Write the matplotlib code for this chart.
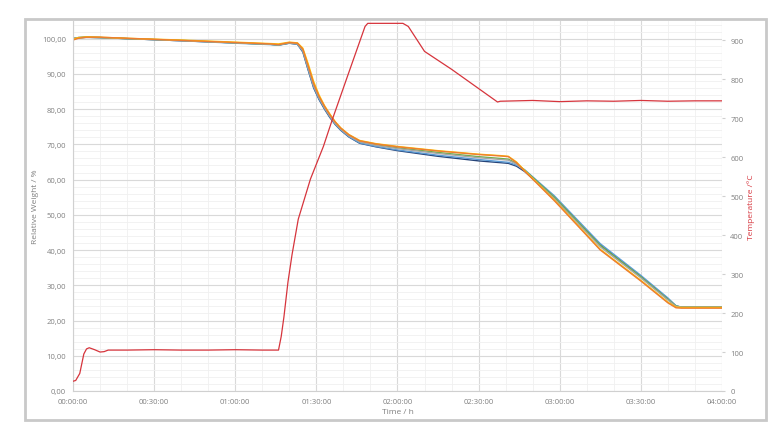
import numpy as np
import matplotlib
matplotlib.use('Agg')
import matplotlib.pyplot as plt
from matplotlib.patches import Rectangle
from matplotlib.ticker import MultipleLocator, FuncFormatter

plt.rcParams['font.family'] = ['Open Sans', 'DejaVu Sans']

# time in minutes for the weight curves
t_w = [0, 2, 5, 10, 20, 40, 60, 73, 76, 80, 83, 85, 87, 89, 91, 93, 95, 97, 99, 102,
       106, 112, 120, 135, 150, 158, 161, 164, 167, 178, 195, 210, 220, 223, 225, 240]

# relative weight / % for each sample
w_dkblue = [100.0, 100.3, 100.4, 100.3, 100.0, 99.4, 98.8, 98.4, 98.2, 98.7, 98.4, 96.2, 91.0, 86.0, 82.7, 80.0, 77.6, 75.6,
            74.0, 72.1, 70.3, 69.3, 68.2, 66.6, 65.3, 64.8, 64.6, 63.8, 62.3, 54.9, 41.4, 32.5, 26.1, 24.1, 23.8, 23.8]
w_blue = [100.1, 100.3, 100.4, 100.3, 100.0, 99.4, 98.7, 98.3, 98.1, 98.7, 98.4, 96.4, 91.2, 86.2, 82.9, 80.2, 77.8, 75.7,
          74.1, 72.2, 70.4, 69.4, 68.4, 66.9, 65.7, 65.1, 64.9, 64.1, 62.8, 55.4, 41.8, 32.8, 26.4, 24.2, 23.8, 23.8]
w_green = [99.8, 100.2, 100.4, 100.3, 100.0, 99.5, 98.8, 98.4, 98.2, 98.8, 98.6, 96.8, 91.9, 86.9, 83.4, 80.6, 78.2, 76.1,
           74.5, 72.6, 70.8, 69.9, 69.0, 67.7, 66.5, 66.0, 65.8, 64.6, 62.7, 55.0, 41.3, 32.4, 26.0, 24.1, 23.8, 23.8]
w_gray = [100.0, 100.2, 100.3, 100.3, 100.0, 99.4, 98.8, 98.4, 98.2, 98.8, 98.5, 96.6, 91.6, 86.6, 83.2, 80.4, 78.0, 75.9,
          74.3, 72.4, 70.7, 69.7, 68.8, 67.4, 66.2, 65.7, 65.5, 64.4, 62.5, 54.6, 40.9, 32.1, 25.8, 24.0, 23.8, 23.8]
w_gold = [99.9, 100.3, 100.5, 100.4, 100.1, 99.6, 99.0, 98.6, 98.5, 99.0, 98.8, 97.3, 92.8, 87.8, 84.0, 81.0, 78.6, 76.4,
          74.7, 72.8, 71.1, 70.2, 69.4, 68.2, 67.2, 66.8, 66.6, 65.0, 62.6, 54.2, 40.2, 31.4, 25.2, 23.8, 23.7, 23.7]
w_orange = [99.6, 100.1, 100.4, 100.4, 100.1, 99.5, 98.9, 98.5, 98.3, 98.9, 98.7, 97.0, 92.2, 87.2, 83.6, 80.8, 78.4, 76.3,
             74.6, 72.7, 71.0, 70.1, 69.3, 68.1, 67.1, 66.7, 66.5, 64.8, 62.4, 54.0, 40.0, 31.2, 25.0, 23.6, 23.5, 23.5]

# furnace temperature / °C
t_temp = [0, 1, 2.5, 4, 5, 6, 8, 10, 11.5, 13, 20, 30, 40, 50, 60, 70, 76, 77, 78, 79.5, 81, 83.3,
          87.8, 92.6, 95.9, 101.5, 108, 109, 122, 124, 130, 140, 157, 158, 170, 180, 190, 200, 210, 220, 230, 240]
temp = [25, 27, 45, 95, 108, 111, 106, 100, 101, 105, 105, 106, 105, 105, 106, 105, 105, 140, 190, 280, 350, 441,
        544, 628, 697, 808, 936, 944, 944, 936, 872, 826, 742, 744, 746, 743, 745, 744, 746, 744, 745, 745]

weights = [w_dkblue, w_blue, w_green, w_gray, w_gold, w_orange]
colors = ['#264478', '#5b9bd5', '#70ad47', '#a5a5a5', '#ffc000', '#ed7d31']

fig = plt.figure(figsize=(7.8, 4.35), dpi=100)
fig.patches.append(Rectangle((0.032, 0.032), 0.95, 0.922, transform=fig.transFigure,
                             fill=False, edgecolor='#c9c9c9', lw=2))
ax = fig.add_axes([0.0936, 0.0989, 0.832, 0.8505])
ax2 = ax.twinx()

for w, c in zip(weights, colors):
    ax.plot(t_w, w, color=c, lw=1.0)
ax2.plot(t_temp, temp, color='#d6343c', lw=0.9)

ax.set_xlim(0, 240)
ax.set_ylim(0, 105)
ax2.set_ylim(0, 950)

ax.xaxis.set_major_locator(MultipleLocator(30))
ax.xaxis.set_minor_locator(MultipleLocator(10))
ax.yaxis.set_major_locator(MultipleLocator(10))
ax.yaxis.set_minor_locator(MultipleLocator(2))
ax2.yaxis.set_major_locator(MultipleLocator(100))
ax.xaxis.set_major_formatter(FuncFormatter(lambda v, p: '%02d:%02d:00' % (int(v) // 60, int(v) % 60)))
ax.yaxis.set_major_formatter(FuncFormatter(lambda v, p: ('%.2f' % v).replace('.', ',')))

ax.grid(which='major', color='#d9d9d9', lw=0.8)
ax.grid(which='minor', color='#f0f0f0', lw=0.6)
ax.set_axisbelow(True)

for a in (ax, ax2):
    for s in a.spines.values():
        s.set_visible(False)
    a.tick_params(which='both', length=0, labelsize=5.5, labelcolor='#808080', pad=5)
ax.spines['bottom'].set_visible(True)
ax.spines['bottom'].set_color('#d0d0d0')
ax.spines['left'].set_visible(True)
ax.spines['left'].set_color('#d0d0d0')
ax2.tick_params(axis='y', length=2, color='#d0d0d0', pad=4)

ax.set_xlabel('Time / h', fontsize=6, color='#808080', labelpad=2)
ax.set_ylabel('Relative Weight / %', fontsize=6, color='#808080', labelpad=2)
ax2.set_ylabel('Temperature /°C', fontsize=6, color='#d6343c', labelpad=3)

fig.savefig('out.png', dpi=100)
